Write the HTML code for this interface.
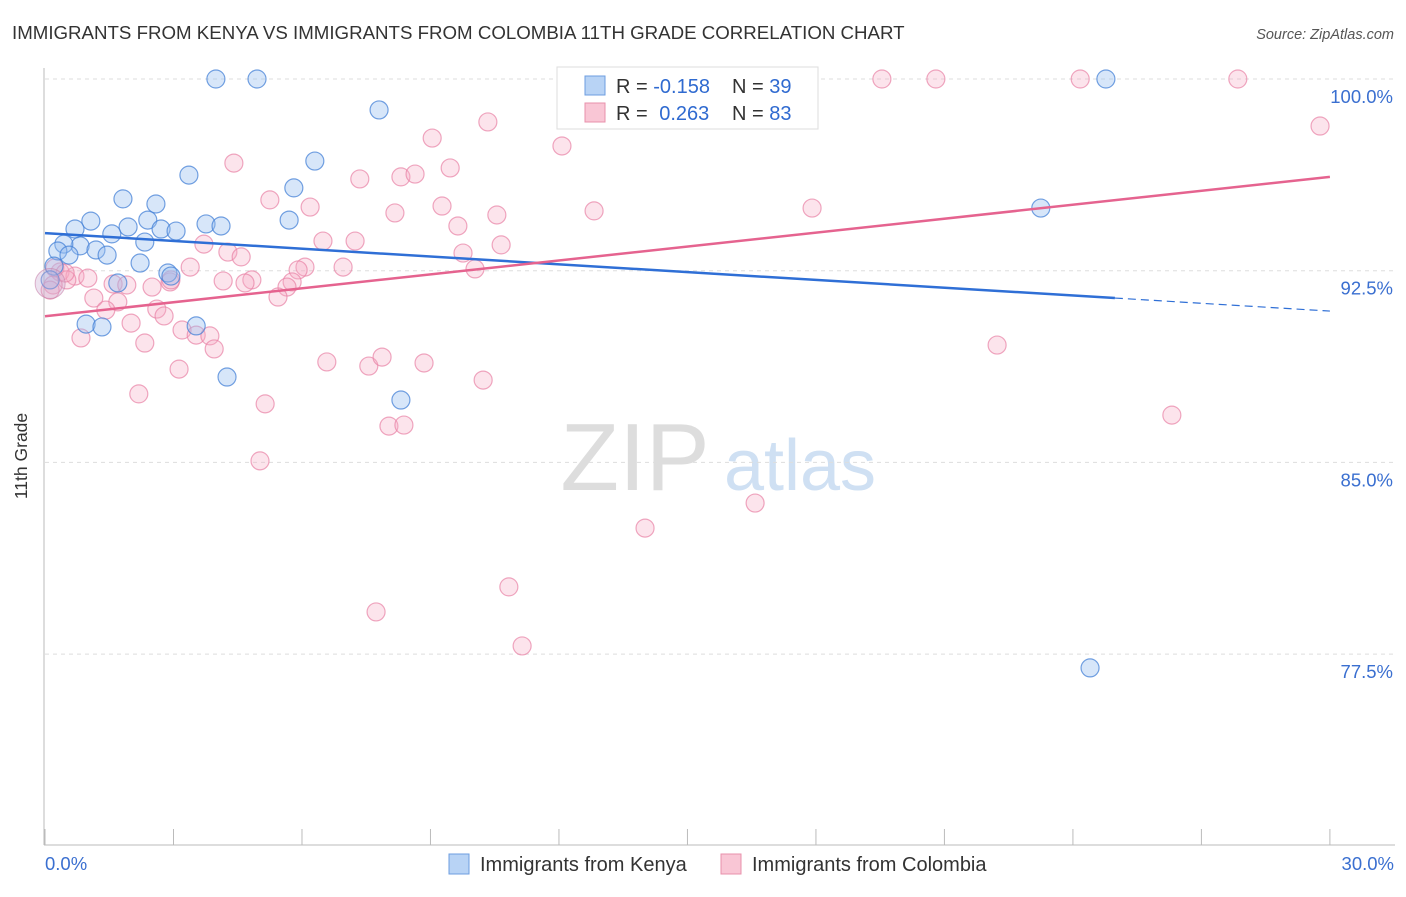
<!DOCTYPE html>
<html><head><meta charset="utf-8"><style>
body{margin:0;background:#fff;font-family:"Liberation Sans",sans-serif;}
svg text{font-family:"Liberation Sans",sans-serif;}
</style></head><body>
<svg width="1406" height="892" viewBox="0 0 1406 892">
<text x="12" y="39" font-size="18.7" fill="#333">IMMIGRANTS FROM KENYA VS IMMIGRANTS FROM COLOMBIA 11TH GRADE CORRELATION CHART</text>
<text x="1394" y="39" font-size="14.5" fill="#555" font-style="italic" text-anchor="end">Source: ZipAtlas.com</text>
<g>
<text x="635" y="490" font-size="96" fill="#ddd" font-family="Liberation Serif" text-anchor="middle">ZIP</text>
<text x="800" y="490" font-size="72" fill="#cfe0f3" text-anchor="middle">atlas</text>
</g>
<g id="grid"></g>
<line x1="44" y1="68" x2="44" y2="845" stroke="#bbb"/>
<line x1="44" y1="845" x2="1395" y2="845" stroke="#bbb"/>
<g id="xticks"></g>
<text x="27" y="456" font-size="17.5" fill="#333" transform="rotate(-90 27 456)" text-anchor="middle">11th Grade</text>
<text x="45" y="870" font-size="18.5" fill="#3a6fd0">0.0%</text>
<text x="1394" y="870" font-size="18.5" fill="#3a6fd0" text-anchor="end">30.0%</text>
<g id="pts"></g>
<g id="lines"></g>
<g>
<rect x="557" y="67" width="261" height="62" fill="#fff" stroke="#ddd"/>
<rect x="585" y="76" width="20" height="19" fill="#b8d3f5" stroke="#6d9ee0"/>
<rect x="585" y="103" width="20" height="19" fill="#f9c6d5" stroke="#e890ab"/>
<text x="616" y="93" font-size="20" fill="#333">R = <tspan fill="#2f6ad0">-0.158</tspan></text>
<text x="732" y="93" font-size="20" fill="#333">N = <tspan fill="#2f6ad0">39</tspan></text>
<text x="616" y="120" font-size="20" fill="#333">R = <tspan fill="#2f6ad0" dx="6">0.263</tspan></text>
<text x="732" y="120" font-size="20" fill="#333">N = <tspan fill="#2f6ad0">83</tspan></text>
</g>
<g>
<rect x="449" y="854" width="20" height="20" fill="#b8d3f5" stroke="#6d9ee0"/>
<text x="480" y="871" font-size="20" fill="#333">Immigrants from Kenya</text>
</g>
<g>
<rect x="721" y="854" width="20" height="20" fill="#f9c6d5" stroke="#e890ab"/>
<text x="752" y="871" font-size="20" fill="#333">Immigrants from Colombia</text>
</g>
</svg>
<script>
const yTicks=[100,92.5,85,77.5];
const yTickLabels=["100.0%","92.5%","85.0%","77.5%"];
const xTicks=[0,3,6,9,12,15,18,21,24,27,30];
const kenyaX=[3.99,4.95,7.80,24.77,3.36,6.30,5.81,1.82,2.59,1.07,1.94,2.40,2.71,3.06,3.76,4.11,5.70,0.70,1.56,2.33,0.82,0.44,0.30,1.19,0.56,1.45,2.22,0.21,2.87,2.94,1.70,0.96,1.33,3.53,4.25,8.31,23.25,24.40,0.12];
const kenyaY=[100,100,98.79,100,96.24,96.79,95.74,95.31,95.11,94.44,94.21,94.48,94.13,94.05,94.33,94.25,94.48,94.13,93.94,93.62,93.47,93.54,93.27,93.31,93.11,93.11,92.80,92.68,92.41,92.29,92.02,90.41,90.30,90.34,88.34,87.44,94.95,76.96,92.14];
const colX=[13.82,19.54,20.80,24.17,27.85,29.77,10.34,9.04,12.07,4.41,9.46,7.35,8.31,8.64,5.25,6.19,9.27,8.17,10.55,12.82,17.91,9.64,6.49,7.24,3.71,10.65,4.27,4.58,9.76,3.39,6.07,6.96,5.91,10.04,0.35,0.70,1.00,0.51,0.19,1.59,1.91,2.92,4.16,4.83,4.67,5.77,5.65,2.50,1.14,5.44,1.70,1.42,2.61,2.78,2.01,3.20,3.53,3.85,0.84,2.33,3.95,3.13,6.58,7.56,7.87,8.85,10.23,2.19,5.14,5.02,8.03,8.38,22.23,26.31,16.58,14.01,10.83,7.73,11.14,0.12,0.23,0.47,2.94];
const colY=[100,100,100,100,100,98.16,98.32,97.69,97.38,96.71,96.52,96.09,96.17,96.28,95.27,94.99,95.03,94.76,94.68,94.84,94.95,94.25,93.66,93.66,93.54,93.51,93.23,93.04,93.19,92.64,92.64,92.64,92.53,92.57,92.45,92.29,92.21,92.14,91.94,91.98,91.94,92.06,92.10,92.14,92.02,92.06,91.86,91.86,91.43,91.47,91.28,90.96,91.00,90.73,90.45,90.18,89.98,89.95,89.87,89.67,89.44,88.65,88.93,88.77,89.12,88.89,88.22,87.68,87.29,85.06,86.42,86.46,89.59,86.85,83.41,82.43,80.13,79.15,77.82,91.74,92.61,92.41,92.14];
const kenyaTrend=[93.97,91.43,90.92];
const kenyaTrendX=[0,24.98,30];
const colTrend=[90.72,96.17];
const colTrendX=[0,30];
const NS="http://www.w3.org/2000/svg";
const sx=v=>45+v*42.83;
const sy=v=>79+(100-v)*25.56;
function mk(tag,attrs,parent){const e=document.createElementNS(NS,tag);for(const k in attrs)e.setAttribute(k,attrs[k]);parent.appendChild(e);return e;}
const grid=document.getElementById('grid');
yTicks.forEach((t,i)=>{
  const l=mk('line',{x1:45,x2:1395,y1:sy(t),y2:sy(t),stroke:'#ddd','stroke-dasharray':'4,4'},grid);
  
  
  const tx=mk('text',{x:1393,y:sy(t)+24,'font-size':18.5,fill:'#3a6fd0','text-anchor':'end'},grid);
  tx.textContent=yTickLabels[i];
  
  
});
const xt=document.getElementById('xticks');
xTicks.forEach(t=>{
  const l=mk('line',{x1:sx(t),x2:sx(t),y1:829,y2:845,stroke:'#bbb'},xt);
  
  
});
const pts=document.getElementById('pts');
colX.forEach((x,i)=>{
  const c=mk('circle',{cx:sx(x),cy:sy(colY[i]),r:9,fill:'rgba(246,170,195,0.32)',stroke:'rgba(232,130,165,0.7)','stroke-width':1.2},pts);
  
  
});
kenyaX.forEach((x,i)=>{
  const c=mk('circle',{cx:sx(x),cy:sy(kenyaY[i]),r:9,fill:'rgba(150,190,240,0.38)',stroke:'rgba(70,130,215,0.75)','stroke-width':1.2},pts);
  
  
});
const big=mk('circle',{cx:sx(0.12),cy:sy(92.0),r:15,fill:'rgba(200,170,210,0.35)',stroke:'rgba(200,130,170,0.6)'},pts);


const lines=document.getElementById('lines');
const kl=mk('line',{x1:sx(kenyaTrendX[0]),y1:sy(kenyaTrend[0]),x2:sx(kenyaTrendX[1]),y2:sy(kenyaTrend[1]),stroke:'#2f6fd6','stroke-width':2.5},lines);


const kd=mk('line',{x1:sx(kenyaTrendX[1]),y1:sy(kenyaTrend[1]),x2:sx(kenyaTrendX[2]),y2:sy(kenyaTrend[2]),stroke:'#2f6fd6','stroke-width':1.2,'stroke-dasharray':'8,5'},lines);


const cl=mk('line',{x1:sx(colTrendX[0]),y1:sy(colTrend[0]),x2:sx(colTrendX[1]),y2:sy(colTrend[1]),stroke:'#e5638f','stroke-width':2.5},lines);


</script>
</body></html>
